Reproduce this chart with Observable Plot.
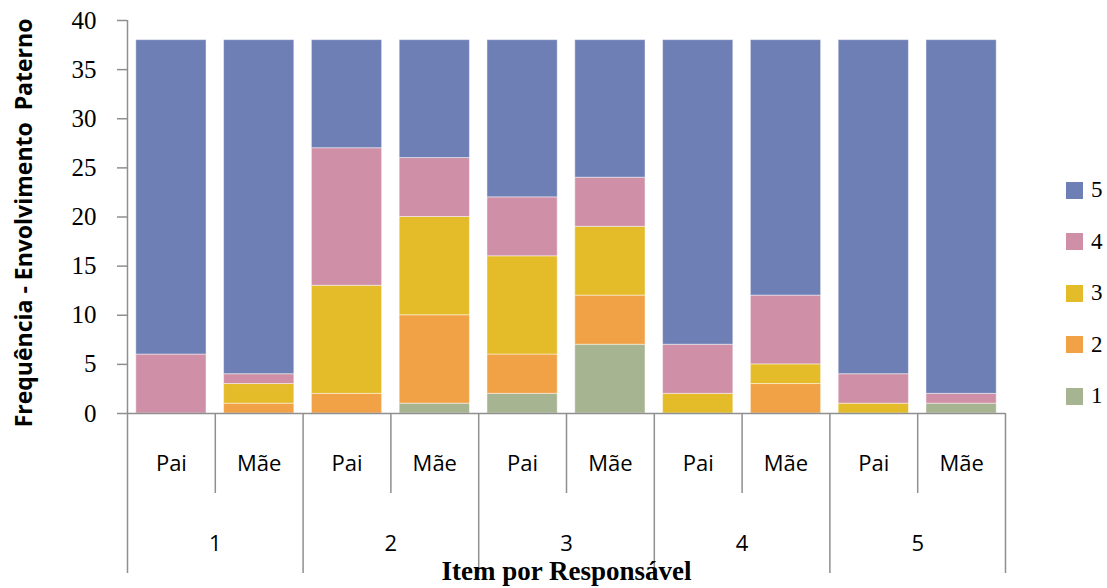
<!DOCTYPE html>
<html>
<head>
<meta charset="utf-8">
<script src="https://cdn.jsdelivr.net/npm/d3@7"></script>
<script src="https://cdn.jsdelivr.net/npm/@observablehq/plot@0.6"></script>
<style>
  html, body { margin: 0; padding: 0; background: #fff; }
  #wrap { position: relative; width: 1107px; height: 588px; overflow: hidden; }
  #legend { position: absolute; left: 1066px; top: 180px; font-family: "Liberation Serif", serif; font-size: 23px; color: #000; }
  .item { display: flex; align-items: center; height: 20px; margin-bottom: 31.5px; }
  .sw { width: 17px; height: 17px; margin-right: 8px; }
</style>
</head>
<body>
<div id="wrap"><div id="legend"></div></div>
<script>
const items = ["1", "2", "3", "4", "5"];
const responsaveis = ["Pai", "Mãe"];
const levels = ["1", "2", "3", "4", "5"];
const colors = ["#a6b491", "#f2a246", "#e4bc29", "#cf90a7", "#6e7fb5"];
const yTicks = [0, 5, 10, 15, 20, 25, 30, 35, 40];
const yTitle = "Frequência - Envolvimento  Paterno";
const xTitle = "Item por Responsável";

// values per bar: 1-Pai, 1-Mãe, 2-Pai, 2-Mãe, ... 5-Mãe
const s1 = [0, 0, 0, 1, 2, 7, 0, 0, 0, 1];
const s2 = [0, 1, 2, 9, 4, 5, 0, 3, 0, 0];
const s3 = [0, 2, 11, 10, 10, 7, 2, 2, 1, 0];
const s4 = [6, 1, 14, 6, 6, 5, 5, 7, 3, 1];
const s5 = [32, 34, 11, 12, 16, 14, 31, 26, 34, 36];
const series = [s1, s2, s3, s4, s5];

const bars = [];
items.forEach(it => responsaveis.forEach(r => bars.push({id: it + "-" + r, item: it, resp: r})));
const ids = bars.map(b => b.id);

const data = [];
bars.forEach((b, i) => levels.forEach((lv, j) => data.push({id: b.id, level: lv, value: series[j][i]})));

const W = 1107, H = 588, mL = 127, mR = 102, mT = 20, mB = 175;
const step = (W - mL - mR) / ids.length;
const inset = step * 0.1;
const pxPerUnit = (H - mB - mT) / 40;
const u = px => -px / pxPerUnit; // pixels below the baseline, in y units

const gray = "#8f8f8f";
const groupStarts = bars.filter(b => b.resp === "Pai").map(b => b.id);
const maeIds = bars.filter(b => b.resp === "Mãe").map(b => b.id);

const chart = Plot.plot({
  width: W, height: H,
  marginLeft: mL, marginRight: mR, marginTop: mT, marginBottom: mB,
  style: {background: "transparent", overflow: "visible"},
  x: {domain: ids, padding: 0, round: false, axis: null},
  y: {domain: [0, 40], axis: null},
  color: {domain: levels, range: colors},
  marks: [
    Plot.barY(data, {x: "id", y: "value", fill: "level", insetLeft: inset, insetRight: inset,
      stroke: "#ffffff", strokeOpacity: 0.45, strokeWidth: 1}),
    // y axis ticks
    Plot.axisY({ticks: yTicks, tickSize: 10, tickFormat: () => "", stroke: gray, strokeWidth: 1.5, label: null}),
    Plot.text(yTicks, {y: d => d, text: d => String(d), frameAnchor: "left", dx: -31, textAnchor: "end",
      lineAnchor: "middle", fontSize: 25, fontFamily: "Liberation Serif", fill: "#000"}),
    Plot.ruleY([0], {stroke: gray, strokeWidth: 1.5}),
    // y axis line + leftmost table line
    Plot.ruleX([ids[0]], {x: d => d, dx: -step / 2, y1: 40, y2: u(160), stroke: gray, strokeWidth: 1.5}),
    // group separators
    Plot.ruleX(groupStarts.slice(1), {x: d => d, dx: -step / 2, y1: 0, y2: u(160), stroke: gray, strokeWidth: 1.5}),
    Plot.ruleX([ids[ids.length - 1]], {x: d => d, dx: step / 2, y1: 0, y2: u(160), stroke: gray, strokeWidth: 1.5}),
    // Pai/Mãe separators
    Plot.ruleX(maeIds, {x: d => d, dx: -step / 2, y1: 0, y2: u(80), stroke: gray, strokeWidth: 1.5}),
    // labels
    Plot.text(bars, {x: "id", y: u(50), text: "resp", fontSize: 22, fontFamily: "Open Sans", fill: "#000", lineAnchor: "middle"}),
    Plot.text(bars.filter(b => b.resp === "Pai"), {x: "id", dx: step / 2, y: u(130), text: "item", fontSize: 22, fontFamily: "Open Sans", fill: "#000", lineAnchor: "middle"}),
    Plot.text([xTitle], {frameAnchor: "bottom", dy: 158, text: d => d, fontSize: 27, fontWeight: "bold", fontFamily: "Liberation Serif", fill: "#000", lineAnchor: "middle"}),
    Plot.text([yTitle], {frameAnchor: "left", dx: -103, dy: 6, rotate: -90, textAnchor: "middle", lineAnchor: "middle", text: d => d, fontSize: 23, fontWeight: "bold", fontFamily: "Open Sans", fill: "#000"})
  ]
});
document.getElementById("wrap").prepend(chart);

const legend = document.getElementById("legend");
levels.slice().reverse().forEach(lv => {
  const div = document.createElement("div");
  div.className = "item";
  const sw = document.createElement("div");
  sw.className = "sw";
  sw.style.background = colors[levels.indexOf(lv)];
  const t = document.createElement("span");
  t.textContent = lv;
  div.appendChild(sw); div.appendChild(t);
  legend.appendChild(div);
});
</script>
</body>
</html>
